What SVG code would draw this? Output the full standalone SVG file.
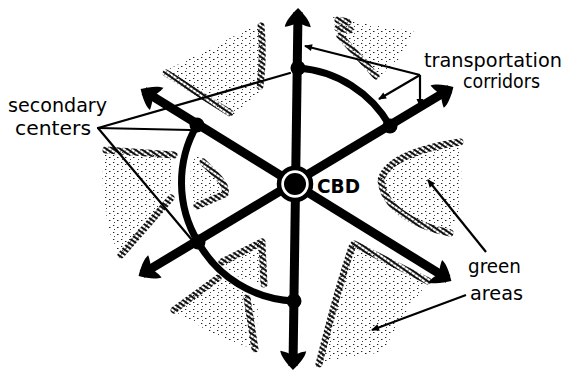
<svg xmlns="http://www.w3.org/2000/svg" width="566" height="376" viewBox="0 0 566 376">
<defs>
  <pattern id="stip" width="8" height="7" patternUnits="userSpaceOnUse">
    <rect x="1" y="1" width="1.3" height="1" fill="#222"/>
    <rect x="5" y="3" width="1.5" height="1" fill="#222"/>
    <rect x="2" y="5" width="1" height="1" fill="#444"/>
  </pattern>
  <pattern id="rope" width="4" height="4" patternUnits="userSpaceOnUse" patternTransform="rotate(35)">
    <rect x="0" y="0" width="4" height="2" fill="#111"/>
    <rect x="1" y="2" width="1" height="2" fill="#888"/>
  </pattern>
  <marker id="ah" viewBox="-17 -15 22 30" markerWidth="22" markerHeight="30" refX="0" refY="0" orient="auto-start-reverse" markerUnits="userSpaceOnUse">
    <path d="M4,0 C-2,-6 -9,-12 -15,-13 C-14,-7 -12,-4 -11,0 C-12,4 -14,7 -15,13 C-9,12 -2,6 4,0 Z" fill="#000"/>
  </marker>
  <marker id="sm" viewBox="-8 -5 10 10" markerWidth="10" markerHeight="10" refX="0" refY="0" orient="auto" markerUnits="userSpaceOnUse">
    <path d="M1,0 L-7,-3.5 L-7,3.5 Z" fill="#000"/>
  </marker>
</defs>
<style>
  .green { fill: url(#stip); stroke: none; }
  .edge { fill: none; stroke: url(#rope); stroke-width: 7; stroke-linecap: round; }
  .road { fill: none; stroke: #000; stroke-width: 9; marker-start: url(#ah); marker-end: url(#ah); }
  .ring { fill: none; stroke: #000; stroke-width: 7; stroke-linecap: round; }
  .lead { fill: none; stroke: #000; stroke-width: 2.2; stroke-linecap: round; }
  .leadA { fill: none; stroke: #000; stroke-width: 2.2; marker-end: url(#sm); }
  .dot { fill: #000; }
  .lbl { font-family: "DejaVu Sans", "Liberation Sans", sans-serif; font-size: 19px; fill: #000; }
</style>
<rect width="566" height="376" fill="#fff"/>

<g id="green-areas">
  <g id="green-top-left">
    <path class="green" d="M163,72 L262,22 L264,88 L232,118 Z"/>
    <path class="edge" d="M166,73 L230,113"/>
    <path class="edge" d="M261,26 Q264,55 260,86"/>
  </g>
  <g id="green-top-right">
    <path class="green" d="M333,17 L355,22 L415,32 L398,60 L378,78 L336,32 Z"/>
    <path class="edge" d="M338,20 L348,22 M338,28 L350,30 M340,36 L376,76"/>
  </g>
  <g id="green-right">
    <path class="green" d="M458,142 C420,148 385,160 380,180 C382,205 410,225 450,233 C462,215 464,170 458,142 Z"/>
    <path class="edge" d="M460,142 C420,148 386,160 381,180 C383,205 410,225 450,233"/>
  </g>
  <g id="green-bottom-right">
    <path class="green" d="M353,243 L428,282 L400,320 L383,352 L330,360 L318,366 L332,300 Z"/>
    <path class="edge" d="M354,244 L428,281"/>
    <path class="edge" d="M352,247 C340,282 330,320 319,364"/>
  </g>
  <g id="green-bottom-small">
    <path class="green" d="M220,263 L264,240 L267,286 L240,278 Z"/>
    <path class="edge" d="M222,262 L262,242"/>
    <path class="edge" d="M262,244 L264,284"/>
  </g>
  <g id="green-lower-left">
    <path class="green" d="M172,310 L217,275 L245,292 L258,305 L256,350 L215,335 Z"/>
    <path class="edge" d="M174,310 L218,278"/>
    <path class="edge" d="M247,298 L255,349"/>
  </g>
  <g id="green-left">
    <path class="green" d="M104,150 L174,153 L170,190 L121,258 L108,230 L102,180 Z"/>
    <path class="edge" d="M106,150 L174,155"/>
    <path class="edge" d="M171,198 L121,255"/>
  </g>
  <g id="green-inner-left">
    <path class="green" d="M191,157 L200,157 L228,192 L195,207 L190,185 Z"/>
    <path class="edge" d="M203,162 C216,175 228,185 225,194 L197,206"/>
  </g>
</g>

<g id="connectors">
  <path class="road" d="M298,12 L293,366"/>
  <path class="road" d="M144,91 L448,279"/>
  <path class="road" d="M450,89 L142,274"/>
  <path class="ring" d="M298,68 A115,115 0 0 1 390,126"/>
  <path class="ring" d="M197,125 A115,115 0 0 0 198,242"/>
  <path class="ring" d="M198,242 A115,115 0 0 0 294,301"/>
  <path class="lead" d="M98,128 L290,73"/>
  <path class="lead" d="M98,128 L190,130"/>
  <path class="lead" d="M98,128 L192,240"/>
  <path class="leadA" d="M420,75 L305,46"/>
  <path class="leadA" d="M420,75 L379,99"/>
  <path class="leadA" d="M420,75 L420,106"/>
  <path class="leadA" d="M486,252 L428,180"/>
  <path class="leadA" d="M466,295 L372,330"/>
</g>

<g id="cbd">
  <circle cx="295" cy="184" r="16" fill="#fff" stroke="#000" stroke-width="4.5"/>
  <circle cx="295" cy="184" r="11" fill="#000"/>
  <text class="lbl" x="317" y="193" font-size="24" font-weight="bold" textLength="43" lengthAdjust="spacingAndGlyphs">CBD</text>
</g>
<g id="sc-top"><circle class="dot" cx="298" cy="68" r="7.5"/></g>
<g id="sc-upper-left"><circle class="dot" cx="197" cy="125" r="7.5"/></g>
<g id="sc-upper-right"><circle class="dot" cx="390" cy="126" r="7.5"/></g>
<g id="sc-lower-left"><circle class="dot" cx="198" cy="242" r="7.5"/></g>
<g id="sc-bottom"><circle class="dot" cx="294" cy="301" r="7.5"/></g>

<g id="label-secondary">
  <text class="lbl" x="8" y="112" textLength="99" lengthAdjust="spacingAndGlyphs">secondary</text>
  <text class="lbl" x="15" y="135" textLength="76" lengthAdjust="spacingAndGlyphs">centers</text>
</g>
<g id="label-transport">
  <text class="lbl" x="424" y="67" font-size="18" textLength="138" lengthAdjust="spacingAndGlyphs">transportation</text>
  <text class="lbl" x="463" y="88" font-size="18" textLength="77" lengthAdjust="spacingAndGlyphs">corridors</text>
</g>
<g id="label-green">
  <text class="lbl" x="468" y="273" font-size="22" textLength="53" lengthAdjust="spacingAndGlyphs">green</text>
  <text class="lbl" x="470" y="300" font-size="22" textLength="53" lengthAdjust="spacingAndGlyphs">areas</text>
</g>
</svg>
